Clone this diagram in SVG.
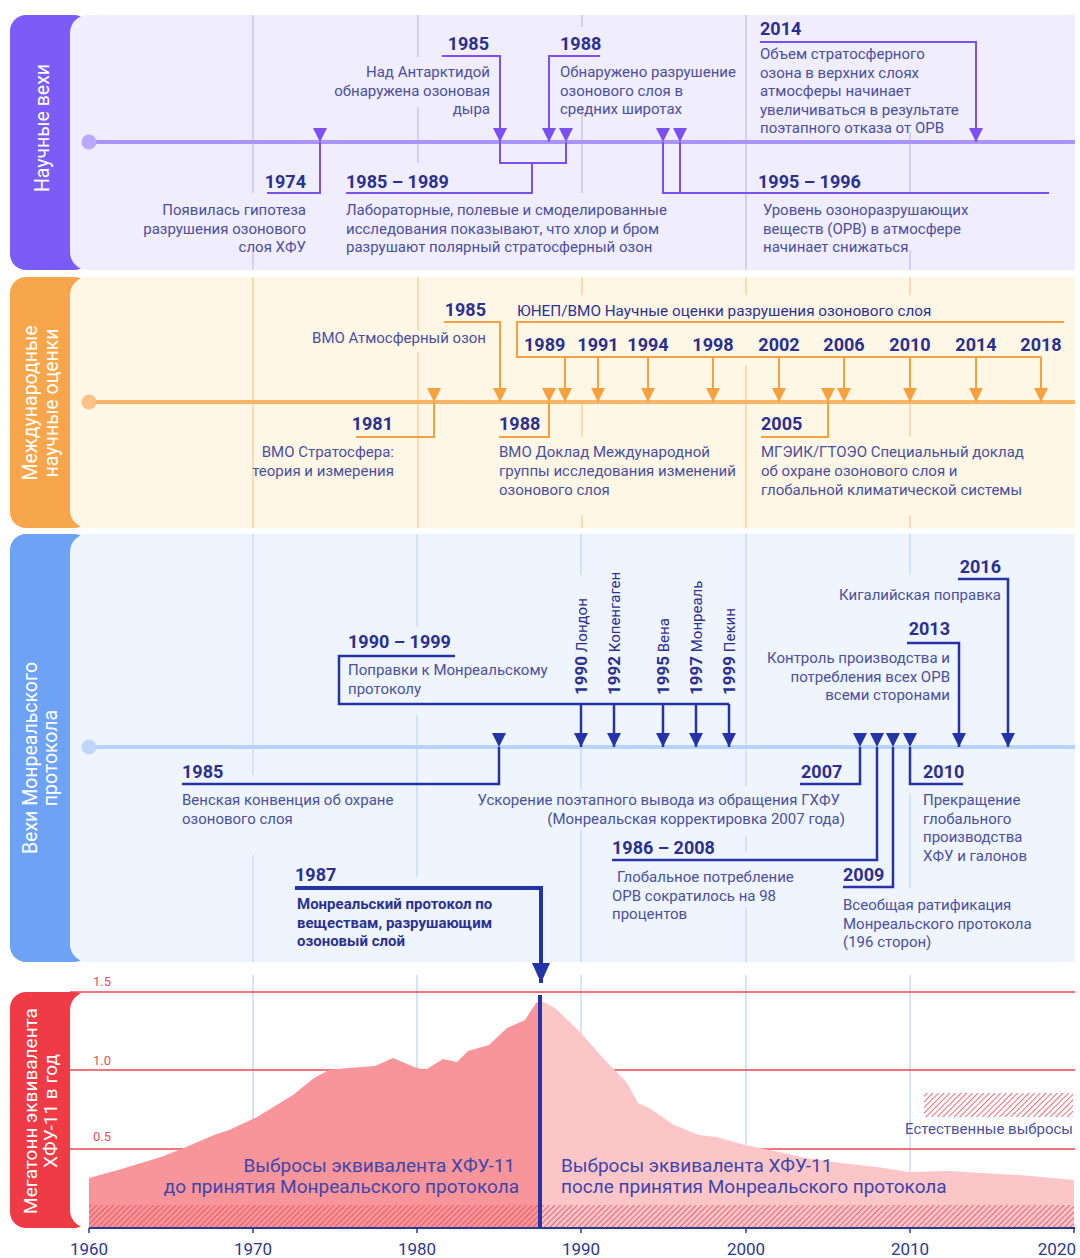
<svg xmlns="http://www.w3.org/2000/svg" width="1080" height="1258" viewBox="0 0 1080 1258">
<style>
text{font-family:Roboto,"Liberation Sans",sans-serif}
.yr{font-size:18px;font-weight:bold;fill:#2B2F8E}
.ds{font-size:15px;fill:#4A4F9F}
.db{font-size:15px;font-weight:bold;fill:#2B3193}
.tab{font-size:19.5px;fill:#FFFFFF;text-anchor:middle}
.e{text-anchor:end}
.m{text-anchor:middle}
.gp{stroke:#CDC2FA;stroke-width:1.5;fill:none}
.go{stroke:#FAD3A1;stroke-width:1.5;fill:none}
.gb{stroke:#C9DCF8;stroke-width:1.5;fill:none}
.cp{stroke:#7B4FF0;stroke-width:2;fill:none}
.co{stroke:#F7A13E;stroke-width:2;fill:none}
.cn{stroke:#2433A5;stroke-width:2.5;fill:none}
.rl{stroke:#EA4752;stroke-width:1.5}
.ax{font-size:17px;fill:#2B3990}
.big{font-size:19px;fill:#3F45A8}
.rot{font-size:15px;fill:#2B2F8E}
</style>
<defs>
<marker id="aP" viewBox="0 0 14 14" refX="14" refY="7" markerWidth="14" markerHeight="14" markerUnits="userSpaceOnUse" orient="90"><path d="M0,0 L14,7 L0,14 Z" fill="#7B4FF0"/></marker>
<marker id="aO" viewBox="0 0 14 14" refX="14" refY="7" markerWidth="14" markerHeight="14" markerUnits="userSpaceOnUse" orient="90"><path d="M0,0 L14,7 L0,14 Z" fill="#F7A13E"/></marker>
<marker id="aN" viewBox="0 0 14 14" refX="14" refY="7" markerWidth="14" markerHeight="14" markerUnits="userSpaceOnUse" orient="90"><path d="M0,0 L14,7 L0,14 Z" fill="#2433A5"/></marker>
<marker id="aB" viewBox="0 0 20 18" refX="20" refY="9" markerWidth="20" markerHeight="18" markerUnits="userSpaceOnUse" orient="90"><path d="M0,0 L20,9 L0,18 Z" fill="#2433A5"/></marker>
<pattern id="hatch" patternUnits="userSpaceOnUse" width="4" height="4" patternTransform="rotate(45)"><rect width="4" height="4" fill="none"/><line x1="0" y1="0" x2="0" y2="4" stroke="#EA4752" stroke-width="1.6"/></pattern>
</defs>
<rect width="1080" height="1258" fill="#FFFFFF"/>

<!-- Panel 1 -->
<g id="panel-science">
<rect x="10" y="15" width="80" height="255" rx="16" fill="#7B5CF6"/>
<path d="M88,15 H1075 V270 H88 A18,18 0 0 1 70,252 V33 A18,18 0 0 1 88,15 Z" fill="#F0EDFE"/>
<text class="tab" transform="translate(49,128) rotate(-90)">Научные вехи</text>
<path class="gp" d="M253,15 V193 M253,252 V270 M418,15 V57 M418,107 V163 M582,15 V27 M582,107 V193 M746,15 V270 M910,132 V193 M910,250 V270"/>
<line x1="89" y1="142" x2="1075" y2="142" stroke="#A995FA" stroke-width="4"/>
<circle cx="89" cy="142" r="7.5" fill="#B9A9FB"/>
</g>

<!-- Panel 2 -->
<g id="panel-assessments">
<rect x="10" y="277" width="80" height="251" rx="16" fill="#F8A64B"/>
<path d="M88,277 H1075 V528 H88 A18,18 0 0 1 70,510 V295 A18,18 0 0 1 88,277 Z" fill="#FEF7E6"/>
<text class="tab" transform="translate(37,403) rotate(-90)">Международные</text>
<text class="tab" transform="translate(58,403) rotate(-90)">научные оценки</text>
<path class="go" d="M253,277 V528 M418,277 V330 M418,352 V528 M582,277 V295 M582,402 V437 M582,515 V528 M746,277 V295 M746,365 V528 M910,277 V295 M910,357 V437 M910,515 V528"/>
<line x1="89" y1="402" x2="1075" y2="402" stroke="#F9B466" stroke-width="4"/>
<circle cx="89" cy="402" r="7.5" fill="#FAC385"/>
</g>

<!-- Panel 3 -->
<g id="panel-protocol">
<rect x="10" y="534" width="80" height="428" rx="16" fill="#6EA2F4"/>
<path d="M88,534 H1075 V962 H88 A18,18 0 0 1 70,944 V552 A18,18 0 0 1 88,534 Z" fill="#EFF5FE"/>
<text class="tab" transform="translate(37,758) rotate(-90)">Вехи Монреальского</text>
<text class="tab" transform="translate(57,758) rotate(-90)">протокола</text>
<path class="gb" d="M253,534 V775 M253,855 V962 M417,534 V627 M417,715 V877 M581,534 V575 M581,704 V790 M581,830 V962 M746,534 V786 M746,836 V852 M746,907 V962 M910,534 V575 M910,793 V888"/>
<line x1="89" y1="747" x2="1075" y2="747" stroke="#B8D2F8" stroke-width="4"/>
<circle cx="89" cy="747" r="7.5" fill="#BFD6F9"/>
</g>

<!-- Chart -->
<g id="chart">
<rect x="10" y="992" width="80" height="236" rx="16" fill="#EE3B46"/>
<path d="M88,992 H1075 V1228 H88 A18,18 0 0 1 70,1210 V1010 A18,18 0 0 1 88,992 Z" fill="#FFFFFF"/>
<text class="tab" style="font-size:19px" transform="translate(37,1111) rotate(-90)">Мегатонн эквивалента</text>
<text class="tab" style="font-size:19px" transform="translate(57,1111) rotate(-90)">ХФУ-11 в год</text>
<path class="gb" d="M253,975 V1228 M417,975 V1228 M581,975 V1228 M746,975 V1228 M910,975 V1228"/>
<line class="rl" x1="70" y1="992" x2="1075" y2="992"/>
<line class="rl" x1="70" y1="1070" x2="1075" y2="1070"/>
<line class="rl" x1="70" y1="1149" x2="1075" y2="1149"/>
<text x="93" y="986" style="font-size:13px;fill:#E8505B">1.5</text>
<text x="93" y="1065" style="font-size:13px;fill:#E8505B">1.0</text>
<text x="93" y="1141" style="font-size:13px;fill:#E8505B">0.5</text>
<path d="M89,1228 L89,1178 L118,1170 L161,1157 L186,1147 L214,1135 L229,1130 L257,1117 L293,1095 L314,1078 L329,1070 L348,1068 L375,1066 L393,1058 L414,1067 L425,1070 L443,1059 L457,1062 L468,1051 L489,1045 L507,1028 L525,1020 L536,1003 L540,1001 L540,1228 Z" fill="#F8959B"/>
<path d="M540,1228 L540,1001 L546,1003 L556,1009 L581,1033 L602,1057 L627,1083 L638,1103 L649,1108 L674,1125 L699,1135 L716,1137 L745,1145 L770,1150 L806,1158 L841,1163 L877,1167 L909,1172 L949,1171 L981,1173 L1020,1175 L1074,1180 L1074,1228 Z" fill="#FCC6C9"/>
<rect x="89" y="1205" width="985" height="23" fill="url(#hatch)"/>
<rect x="924" y="1093" width="149" height="24" fill="url(#hatch)"/>
<text class="e" x="1073" y="1134" style="font-size:15px;fill:#4A4F9F">Естественные выбросы</text>
<line x1="89" y1="1228" x2="1075" y2="1228" stroke="#2B3990" stroke-width="2"/>
<path d="M89,1228 V1233 M253,1228 V1233 M417,1228 V1233 M581,1228 V1233 M746,1228 V1233 M910,1228 V1233 M1074,1228 V1233" stroke="#2B3990" stroke-width="1.5"/>
<line x1="540" y1="995" x2="540" y2="1228" stroke="#2433A5" stroke-width="4"/>
<text class="big e" x="515" y="1172">Выбросы эквивалента ХФУ-11</text>
<text class="big e" x="519" y="1193">до принятия Монреальского протокола</text>
<text class="big" x="561" y="1172">Выбросы эквивалента ХФУ-11</text>
<text class="big" x="561" y="1193">после принятия Монреальского протокола</text>
<text class="ax m" x="89" y="1255">1960</text>
<text class="ax m" x="253" y="1255">1970</text>
<text class="ax m" x="417" y="1255">1980</text>
<text class="ax m" x="581" y="1255">1990</text>
<text class="ax m" x="746" y="1255">2000</text>
<text class="ax m" x="910" y="1255">2010</text>
<text class="ax e" x="1076" y="1255">2020</text>
</g>

<!-- Connectors -->
<g id="connectors">
<path class="cp" d="M267,193 H320 V142" marker-end="url(#aP)"/>
<path class="cp" d="M442,56 H500 V142" marker-end="url(#aP)"/>
<path class="cp" d="M600,56 H549 V142" marker-end="url(#aP)"/>
<path class="cp" d="M760,42 H976 V142" marker-end="url(#aP)"/>
<path class="cp" d="M500,142 V163 H566 V142" marker-end="url(#aP)"/>
<path class="cp" d="M532,163 V193 H346"/>
<path class="cp" d="M663,142 V193 H1049" marker-start="url(#aP)"/>
<path class="cp" d="M680,142 V193" marker-start="url(#aP)"/>

<path class="co" d="M444,322 H500 V402" marker-end="url(#aO)"/>
<path class="co" d="M1064,322 H517 V357 H1041"/>
<path class="co" d="M565,357 V402" marker-end="url(#aO)"/>
<path class="co" d="M598,357 V402" marker-end="url(#aO)"/>
<path class="co" d="M648,357 V402" marker-end="url(#aO)"/>
<path class="co" d="M713,357 V402" marker-end="url(#aO)"/>
<path class="co" d="M779,357 V402" marker-end="url(#aO)"/>
<path class="co" d="M844,357 V402" marker-end="url(#aO)"/>
<path class="co" d="M910,357 V402" marker-end="url(#aO)"/>
<path class="co" d="M976,357 V402" marker-end="url(#aO)"/>
<path class="co" d="M1041,357 V402" marker-end="url(#aO)"/>
<path class="co" d="M434,402 V437 H356" marker-start="url(#aO)"/>
<path class="co" d="M549,402 V437 H499" marker-start="url(#aO)"/>
<path class="co" d="M828,402 V437 H761" marker-start="url(#aO)"/>

<path class="cn" d="M455,656 H339 V704 H729"/>
<path class="cn" d="M581,704 V747" marker-end="url(#aN)"/>
<path class="cn" d="M614,704 V747" marker-end="url(#aN)"/>
<path class="cn" d="M663,704 V747" marker-end="url(#aN)"/>
<path class="cn" d="M696,704 V747" marker-end="url(#aN)"/>
<path class="cn" d="M729,704 V747" marker-end="url(#aN)"/>
<path class="cn" d="M499,747 V784 H182" marker-start="url(#aN)"/>
<path class="cn" d="M860,747 V784 H800" marker-start="url(#aN)"/>
<path class="cn" d="M877,747 V860 H612" marker-start="url(#aN)"/>
<path class="cn" d="M893,747 V887 H843" marker-start="url(#aN)"/>
<path class="cn" d="M910,747 V784 H963" marker-start="url(#aN)"/>
<path class="cn" d="M907,643 H959 V747" marker-end="url(#aN)"/>
<path class="cn" d="M958,579 H1008 V747" marker-end="url(#aN)"/>
<path d="M295,888 H541 V983" stroke="#2433A5" stroke-width="4" fill="none" marker-end="url(#aB)"/>
</g>

<!-- Panel 1 nodes -->
<g id="n-1974"><text class="yr e" x="306" y="188">1974</text>
<text class="ds e" x="306" y="215">Появилась гипотеза</text>
<text class="ds e" x="306" y="233.5">разрушения озонового</text>
<text class="ds e" x="306" y="252">слоя ХФУ</text></g>
<g id="n-1985a"><text class="yr e" x="489" y="50">1985</text>
<text class="ds e" x="490" y="77">Над Антарктидой</text>
<text class="ds e" x="490" y="95.5">обнаружена озоновая</text>
<text class="ds e" x="490" y="114">дыра</text></g>
<g id="n-1988a"><text class="yr" x="560" y="50">1988</text>
<text class="ds" x="560" y="77">Обнаружено разрушение</text>
<text class="ds" x="560" y="95.5">озонового слоя в</text>
<text class="ds" x="560" y="114">средних широтах</text></g>
<g id="n-2014a"><text class="yr" x="760" y="35">2014</text>
<text class="ds" x="760" y="59">Объем стратосферного</text>
<text class="ds" x="760" y="77.5">озона в верхних слоях</text>
<text class="ds" x="760" y="96">атмосферы начинает</text>
<text class="ds" x="760" y="114.5">увеличиваться в результате</text>
<text class="ds" x="760" y="133">поэтапного отказа от ОРВ</text></g>
<g id="n-1985-1989"><text class="yr" x="346" y="188">1985 – 1989</text>
<text class="ds" x="346" y="215">Лабораторные, полевые и смоделированные</text>
<text class="ds" x="346" y="233.5">исследования показывают, что хлор и бром</text>
<text class="ds" x="346" y="252">разрушают полярный стратосферный озон</text></g>
<g id="n-1995-1996"><text class="yr" x="758" y="188">1995 – 1996</text>
<text class="ds" x="763" y="215">Уровень озоноразрушающих</text>
<text class="ds" x="763" y="233.5">веществ (ОРВ) в атмосфере</text>
<text class="ds" x="763" y="252">начинает снижаться</text></g>

<!-- Panel 2 nodes -->
<g id="n-1985b"><text class="yr e" x="486" y="316">1985</text>
<text class="ds e" x="486" y="343">ВМО Атмосферный озон</text></g>
<g id="n-unep"><text class="ds" x="517" y="316" style="font-size:15.3px;fill:#2B3193">ЮНЕП/ВМО Научные оценки разрушения озонового слоя</text>
<text class="yr" x="524" y="351">1989</text>
<text class="yr m" x="598" y="351">1991</text>
<text class="yr m" x="648" y="351">1994</text>
<text class="yr m" x="713" y="351">1998</text>
<text class="yr m" x="779" y="351">2002</text>
<text class="yr m" x="844" y="351">2006</text>
<text class="yr m" x="910" y="351">2010</text>
<text class="yr m" x="976" y="351">2014</text>
<text class="yr m" x="1041" y="351">2018</text></g>
<g id="n-1981"><text class="yr e" x="393" y="430">1981</text>
<text class="ds e" x="394" y="457">ВМО Стратосфера:</text>
<text class="ds e" x="394" y="476">теория и измерения</text></g>
<g id="n-1988b"><text class="yr" x="499" y="430">1988</text>
<text class="ds" x="499" y="457">ВМО Доклад Международной</text>
<text class="ds" x="499" y="476">группы исследования изменений</text>
<text class="ds" x="499" y="495">озонового слоя</text></g>
<g id="n-2005"><text class="yr" x="761" y="430">2005</text>
<text class="ds" x="761" y="457">МГЭИК/ГТОЭО Специальный доклад</text>
<text class="ds" x="761" y="476">об охране озонового слоя и</text>
<text class="ds" x="761" y="495">глобальной климатической системы</text></g>

<!-- Panel 3 nodes -->
<g id="n-1990-1999"><text class="yr" x="348" y="648">1990 – 1999</text>
<text class="ds" x="348" y="675">Поправки к Монреальскому</text>
<text class="ds" x="348" y="694">протоколу</text></g>
<g id="n-amend">
<text class="rot" transform="translate(587,695) rotate(-90)"><tspan class="yr" style="font-size:17px">1990</tspan> Лондон</text>
<text class="rot" transform="translate(620,695) rotate(-90)"><tspan class="yr" style="font-size:17px">1992</tspan> Копенгаген</text>
<text class="rot" transform="translate(669,695) rotate(-90)"><tspan class="yr" style="font-size:17px">1995</tspan> Вена</text>
<text class="rot" transform="translate(702,695) rotate(-90)"><tspan class="yr" style="font-size:17px">1997</tspan> Монреаль</text>
<text class="rot" transform="translate(735,695) rotate(-90)"><tspan class="yr" style="font-size:17px">1999</tspan> Пекин</text>
</g>
<g id="n-1985c"><text class="yr" x="182" y="778">1985</text>
<text class="ds" x="182" y="805">Венская конвенция об охране</text>
<text class="ds" x="182" y="823.5">озонового слоя</text></g>
<g id="n-1987"><text class="yr" x="295" y="881">1987</text>
<text class="db" x="297" y="909">Монреальский протокол по</text>
<text class="db" x="297" y="927.5">веществам, разрушающим</text>
<text class="db" x="297" y="946">озоновый слой</text></g>
<g id="n-2007"><text class="yr" x="801" y="778">2007</text>
<text class="ds e" x="840" y="805">Ускорение поэтапного вывода из обращения ГХФУ</text>
<text class="ds e" x="845" y="823.5">(Монреальская корректировка 2007 года)</text></g>
<g id="n-1986-2008"><text class="yr" x="612" y="854">1986 – 2008</text>
<text class="ds" x="617" y="882">Глобальное потребление</text>
<text class="ds" x="612" y="900.5">ОРВ сократилось на 98</text>
<text class="ds" x="612" y="919">процентов</text></g>
<g id="n-2009"><text class="yr" x="843" y="881">2009</text>
<text class="ds" x="843" y="910">Всеобщая ратификация</text>
<text class="ds" x="843" y="928.5">Монреальского протокола</text>
<text class="ds" x="843" y="947">(196 сторон)</text></g>
<g id="n-2010"><text class="yr" x="923" y="778">2010</text>
<text class="ds" x="923" y="805">Прекращение</text>
<text class="ds" x="923" y="823.5">глобального</text>
<text class="ds" x="923" y="842">производства</text>
<text class="ds" x="923" y="860.5">ХФУ и галонов</text></g>
<g id="n-2013"><text class="yr e" x="950" y="635">2013</text>
<text class="ds e" x="950" y="663">Контроль производства и</text>
<text class="ds e" x="950" y="681.5">потребления всех ОРВ</text>
<text class="ds e" x="950" y="700">всеми сторонами</text></g>
<g id="n-2016"><text class="yr e" x="1001" y="573">2016</text>
<text class="ds e" x="1001" y="600">Кигалийская поправка</text></g>
</svg>
